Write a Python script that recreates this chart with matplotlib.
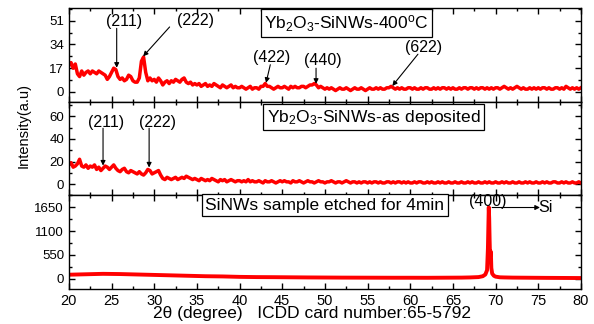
import numpy as np
import matplotlib
matplotlib.use("Agg")
import matplotlib.pyplot as plt
from matplotlib.ticker import MultipleLocator

plt.rcParams['font.family'] = ['Liberation Sans', 'DejaVu Sans']
plt.rcParams['mathtext.fontset'] = 'custom'
plt.rcParams['mathtext.rm'] = 'Liberation Sans'
plt.rcParams['mathtext.it'] = 'Liberation Sans:italic'

# 2theta scan, step 0.25 deg (Yb2O3 samples)
two_theta = np.arange(20, 80.001, 0.25)

# Yb2O3-SiNWs annealed at 400 C
i_400 = [
    19, 21, 17, 20, 13, 11, 15, 12, 14, 15, 13, 15, 14, 13, 15, 14, 13, 12, 9, 11,
    14, 17, 16, 11, 9, 10, 8, 9, 12, 11, 8, 7, 7, 10, 22, 25, 14, 8, 10, 8,
    9, 7, 10, 8, 5, 7, 8, 6, 8, 7, 9, 8, 7, 9, 10, 7, 6, 7, 5, 6,
    5, 6, 4, 5, 6, 4, 5, 4, 6, 5, 4, 3, 5, 4, 3, 4, 5, 3, 4, 3,
    3, 4, 3, 2, 3, 4, 2, 3, 3, 2, 4, 4, 6, 4, 4, 3, 2, 3, 4, 3,
    3, 4, 3, 2, 4, 3, 4, 3, 3, 4, 4, 3, 4, 5, 5, 6, 5, 3, 4, 3,
    2, 3, 2, 3, 2, 1, 2, 3, 2, 2, 3, 2, 1, 2, 3, 2, 2, 3, 2, 1,
    2, 3, 2, 2, 3, 2, 3, 2, 2, 3, 3, 4, 3, 2, 3, 2, 3, 2, 2, 3,
    3, 2, 3, 2, 2, 3, 2, 3, 3, 2, 2, 3, 2, 3, 2, 3, 3, 2, 3, 2,
    3, 2, 2, 3, 2, 3, 3, 2, 3, 3, 2, 3, 2, 3, 3, 2, 3, 2, 3, 2,
    3, 3, 2, 3, 4, 3, 2, 3, 2, 3, 4, 3, 2, 3, 2, 2, 3, 2, 3, 2,
    3, 2, 3, 3, 2, 3, 2, 2, 3, 3, 2, 3, 2, 4, 3, 2, 3, 2, 3, 2,
    3]

# Yb2O3-SiNWs as deposited
i_dep = [
    17, 19, 15, 16, 18, 22, 16, 15, 17, 14, 16, 15, 17, 13, 15, 12, 14, 16, 15, 13,
    15, 17, 14, 12, 11, 13, 14, 11, 10, 12, 11, 10, 9, 11, 9, 8, 10, 13, 12, 9,
    10, 11, 12, 8, 5, 4, 6, 5, 4, 5, 6, 4, 5, 6, 5, 7, 6, 5, 4, 5,
    4, 3, 5, 4, 3, 4, 3, 5, 4, 3, 2, 4, 3, 4, 2, 3, 4, 3, 2, 3,
    3, 2, 3, 2, 4, 2, 3, 2, 2, 3, 2, 1, 3, 2, 2, 3, 2, 1, 2, 3,
    2, 3, 2, 2, 1, 3, 2, 2, 3, 2, 1, 2, 3, 2, 2, 1, 2, 3, 2, 2,
    1, 2, 2, 3, 2, 1, 2, 2, 1, 2, 3, 2, 1, 2, 2, 1, 2, 1, 2, 2,
    1, 2, 1, 2, 2, 1, 2, 1, 1, 2, 2, 1, 2, 1, 2, 2, 1, 2, 1, 2,
    1, 1, 2, 1, 2, 2, 1, 1, 2, 1, 2, 1, 1, 2, 1, 2, 1, 1, 2, 1,
    1, 2, 1, 1, 2, 1, 1, 2, 1, 2, 1, 1, 2, 1, 1, 2, 1, 2, 1, 1,
    2, 1, 1, 2, 1, 2, 1, 1, 2, 1, 1, 2, 1, 1, 2, 1, 2, 1, 1, 2,
    1, 1, 2, 1, 2, 1, 1, 2, 2, 1, 1, 2, 1, 2, 1, 1, 2, 1, 1, 2,
    1]

# SiNWs etched for 4 min
si_theta = [20, 22, 24, 26, 28, 30, 32, 34, 36, 38, 40, 42, 44, 46, 48, 50, 52, 54,
            56, 58, 60, 62, 64, 66, 67, 68, 68.5, 68.8, 69.0, 69.1, 69.2, 69.25, 69.3,
            69.35, 69.4, 69.45, 69.5, 69.6, 69.8, 70.0, 70.5, 71, 72, 74, 76, 78, 80]
si_int = [95, 105, 115, 110, 100, 90, 80, 70, 60, 55, 45, 40, 38, 35, 32, 30, 28, 27,
          26, 25, 25, 24, 26, 28, 32, 40, 60, 100, 200, 700, 1650, 1400, 900,
          500, 640, 600, 250, 120, 70, 50, 35, 32, 28, 25, 22, 20, 18]

fig, (ax1, ax2, ax3) = plt.subplots(3, 1, sharex=True, figsize=(5.94, 3.24), dpi=100)
plt.subplots_adjust(left=0.116, right=0.978, top=0.975, bottom=0.108, hspace=0)

ax1.plot(two_theta, i_400, color='red', lw=2.5)
ax2.plot(two_theta, i_dep, color='red', lw=2.5)
ax3.plot(si_theta, si_int, color='red', lw=2.8)

ax1.set_ylim(-7, 60)
ax1.set_yticks([0, 17, 34, 51])
ax1.yaxis.set_minor_locator(MultipleLocator(8.5))
ax2.set_ylim(-10, 73)
ax2.set_yticks([0, 20, 40, 60])
ax2.yaxis.set_minor_locator(MultipleLocator(10))
ax3.set_ylim(-235, 1925)
ax3.set_yticks([0, 550, 1100, 1650])
ax3.yaxis.set_minor_locator(MultipleLocator(275))

ax3.set_xlim(20, 80)
ax3.xaxis.set_major_locator(MultipleLocator(5))
ax3.xaxis.set_minor_locator(MultipleLocator(2.5))

for ax in (ax1, ax2, ax3):
    ax.tick_params(which='both', direction='in', top=True, right=True, width=1)
    ax.tick_params(which='major', length=4)
    ax.tick_params(which='minor', length=2)
    ax.tick_params(axis='y', labelsize=9.5)
    for s in ax.spines.values():
        s.set_linewidth(1)
ax3.tick_params(axis='x', labelsize=10.5)

arr = dict(arrowstyle='-|>', color='black', lw=0.8, mutation_scale=7, shrinkA=0, shrinkB=0)
fs = 11.5

# top panel peaks
ax1.text(26.5, 50.4, '(211)', fontsize=fs, ha='center', va='center')
ax1.annotate('', xy=(25.6, 17.3), xytext=(25.6, 45.5), arrowprops=arr)
ax1.text(34.8, 51.1, '(222)', fontsize=fs, ha='center', va='center')
ax1.annotate('', xy=(28.7, 25.5), xytext=(31.8, 46.5), arrowprops=arr)
ax1.text(43.7, 24.5, '(422)', fontsize=fs, ha='center', va='center')
ax1.annotate('', xy=(43.1, 6.5), xytext=(43.6, 19.5), arrowprops=arr)
ax1.text(49.7, 22.3, '(440)', fontsize=fs, ha='center', va='center')
ax1.annotate('', xy=(48.96, 5.8), xytext=(48.96, 17), arrowprops=arr)
ax1.text(61.6, 31.7, '(622)', fontsize=fs, ha='center', va='center')
ax1.annotate('', xy=(57.9, 4.3), xytext=(60.9, 27), arrowprops=arr)

# middle panel peaks
ax2.text(24.3, 54.5, '(211)', fontsize=fs, ha='center', va='center')
ax2.annotate('', xy=(24.0, 16.4), xytext=(24.0, 49.5), arrowprops=arr)
ax2.text(30.4, 54.5, '(222)', fontsize=fs, ha='center', va='center')
ax2.annotate('', xy=(29.4, 14.7), xytext=(29.4, 49.5), arrowprops=arr)

# bottom panel peak
ax3.text(69.05, 1786, '(400)', fontsize=fs, ha='center', va='center', clip_on=False, zorder=5)
ax3.annotate('', xy=(75.2, 1645), xytext=(69.6, 1645), arrowprops=arr)
ax3.text(75.9, 1645, 'Si', fontsize=fs, ha='center', va='center')

box = dict(boxstyle='square,pad=0.2', fc='white', ec='black', lw=0.9)
ax1.text(0.542, 0.839, 'Yb$_2$O$_3$-SiNWs-400$^\\mathrm{o}$C', transform=ax1.transAxes,
         fontsize=12.5, ha='center', va='center', bbox=box)
ax2.text(0.595, 0.833, 'Yb$_2$O$_3$-SiNWs-as deposited', transform=ax2.transAxes,
         fontsize=12.5, ha='center', va='center', bbox=box)
ax3.text(0.5, 0.897, 'SiNWs sample etched for 4min', transform=ax3.transAxes,
         fontsize=12.5, ha='center', va='center', bbox=box)

fig.text(0.039, 0.614, 'Intensity(a.u)', rotation=90, fontsize=10.5, ha='center', va='center')
fig.text(0.526, 0.031, '2\u03b8 (degree)   ICDD card number:65-5792', fontsize=12.5,
         ha='center', va='center')

fig.savefig('out.png', dpi=100)
